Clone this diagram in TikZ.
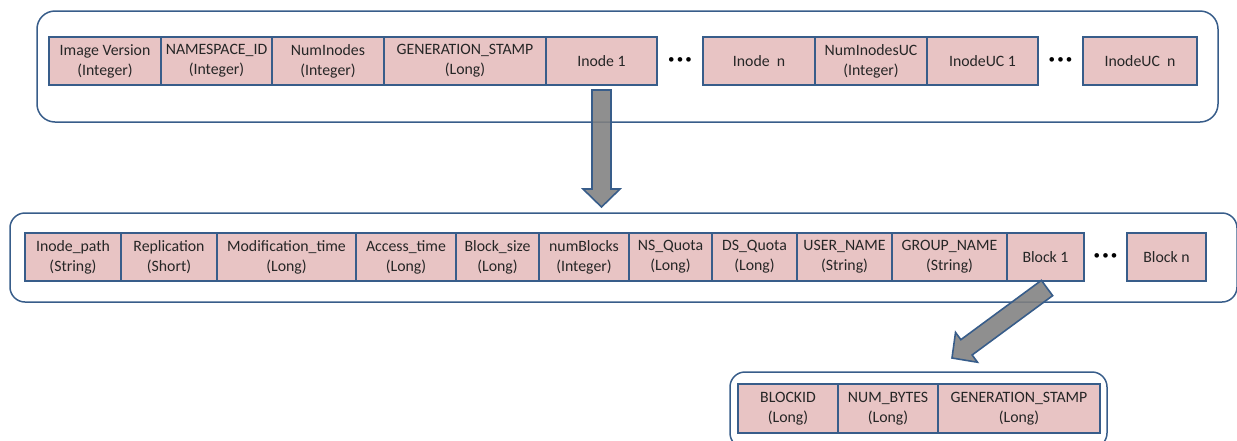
\documentclass[tikz,border=0pt]{standalone}
\usepackage{fontspec}
\setmainfont{Carlito}
\usetikzlibrary{positioning,calc}
\definecolor{edgeblue}{RGB}{56,93,138}
\definecolor{fieldpink}{RGB}{232,196,196}
\definecolor{arrowgray}{RGB}{128,128,128}
\tikzset{
    field/.style={draw=edgeblue,fill=fieldpink,line width=1.2pt,outer sep=0pt,inner sep=0pt,
        minimum height=48pt,align=center,text=black!85,font=\fontsize{15.8}{20}\selectfont},
    frame/.style={draw=edgeblue,line width=1.5pt,rounded corners=#1,outer sep=0pt,inner sep=0pt,anchor=north west},
    frame/.default=15pt,
    dots/.style={font=\fontsize{13}{20}\selectfont},
    fatarrow/.style={draw=edgeblue,line width=1.6pt,fill=arrowgray,fill opacity=0.88,line join=miter}
}
%% block arrow from #1 to #2
\newcommand{\blockarrow}[2]{%
    \coordinate (#1base) at ($(#2)!18pt!(#1)$);
    \draw[fatarrow] ($(#1)!9.5pt!90:(#2)$) -- ($(#1base)!9.5pt!90:(#2)$) -- ($(#1base)!18.5pt!90:(#2)$)
        -- (#2) -- ($(#1base)!18.5pt!-90:(#2)$) -- ($(#1base)!9.5pt!-90:(#2)$) -- ($(#1)!9.5pt!-90:(#2)$) -- cycle;
}
\begin{document}
\begin{tikzpicture}[x=1pt,y=-1pt]
    \useasboundingbox (0,0) rectangle (1237,440);
    %% image frame
    \node[frame=18pt,minimum width=1181pt,minimum height=111pt] (topframe) at (37,11) {};
    \node[field,minimum width=112pt,anchor=north west] (imgver) at (49,37) {Image Version\\(Integer)};
    \node[field,minimum width=111pt,right=0pt of imgver] (nsid) {NAMESPACE\_ID\\(Integer)};
    \node[field,minimum width=112pt,right=0pt of nsid] (numinodes) {NumInodes\\(Integer)};
    \node[field,minimum width=162pt,right=0pt of numinodes] (genstamp) {GENERATION\_STAMP\\(Long)};
    \node[field,minimum width=111pt,right=0pt of genstamp] (inode1) {Inode 1};
    \node[field,minimum width=112pt,right=46pt of inode1] (inoden) {Inode~~n};
    \node[field,minimum width=112pt,right=0pt of inoden] (numuc) {NumInodesUC\\(Integer)};
    \node[field,minimum width=111pt,right=0pt of numuc] (inodeuc1) {InodeUC 1};
    \node[field,minimum width=114pt,right=45pt of inodeuc1] (inodeucn) {InodeUC~~n};
    \node[dots] (dotsa) at ($(inode1.east)!0.5!(inoden.west)$) {\textbullet\,\textbullet\,\textbullet};
    \node[dots] (dotsb) at ($(inodeuc1.east)!0.5!(inodeucn.west)$) {\textbullet\,\textbullet\,\textbullet};
    %% inode frame
    \node[frame,minimum width=1227pt,minimum height=89pt] (midframe) at (10,213) {};
    \node[field,minimum width=96pt,anchor=north west] (path) at (25,233) {Inode\_path\\(String)};
    \node[field,minimum width=96pt,right=0pt of path] (repl) {Replication\\(Short)};
    \node[field,minimum width=139pt,right=0pt of repl] (mtime) {Modification\_time\\(Long)};
    \node[field,minimum width=100pt,right=0pt of mtime] (atime) {Access\_time\\(Long)};
    \node[field,minimum width=83pt,right=0pt of atime] (bsize) {Block\_size\\(Long)};
    \node[field,minimum width=90pt,right=0pt of bsize] (nblocks) {numBlocks\\(Integer)};
    \node[field,minimum width=83pt,right=0pt of nblocks] (nsquota) {NS\_Quota\\(Long)};
    \node[field,minimum width=85pt,right=0pt of nsquota] (dsquota) {DS\_Quota\\(Long)};
    \node[field,minimum width=95pt,right=0pt of dsquota] (user) {USER\_NAME\\(String)};
    \node[field,minimum width=115pt,right=0pt of user] (group) {GROUP\_NAME\\(String)};
    \node[field,minimum width=77pt,right=0pt of group] (block1) {Block 1};
    \node[field,minimum width=79pt,right=43pt of block1] (blockn) {Block n};
    \node[dots] (dotsc) at ($(block1.east)!0.5!(blockn.west)$) {\textbullet\,\textbullet\,\textbullet};
    %% block frame
    \node[frame,minimum width=377pt,minimum height=76pt] (botframe) at (730,372) {};
    \node[field,minimum width=100pt,minimum height=49pt,anchor=north west] (blockid) at (738,384) {BLOCKID\\(Long)};
    \node[field,minimum width=100pt,minimum height=49pt,right=0pt of blockid] (numbytes) {NUM\_BYTES\\(Long)};
    \node[field,minimum width=162pt,minimum height=49pt,right=0pt of numbytes] (bgenstamp) {GENERATION\_STAMP\\(Long)};
    %% arrows
    \coordinate (a1) at ($(inode1.south)+(0,5)$);
    \coordinate (b1) at ($(inode1.south |- midframe.north)+(0,-6)$);
    \blockarrow{a1}{b1}
    \coordinate (a2) at ($(block1.south)+(1.5,7)$);
    \coordinate (b2) at ($(botframe.north)+(33.5,-14)$);
    \blockarrow{a2}{b2}
\end{tikzpicture}
\end{document}
